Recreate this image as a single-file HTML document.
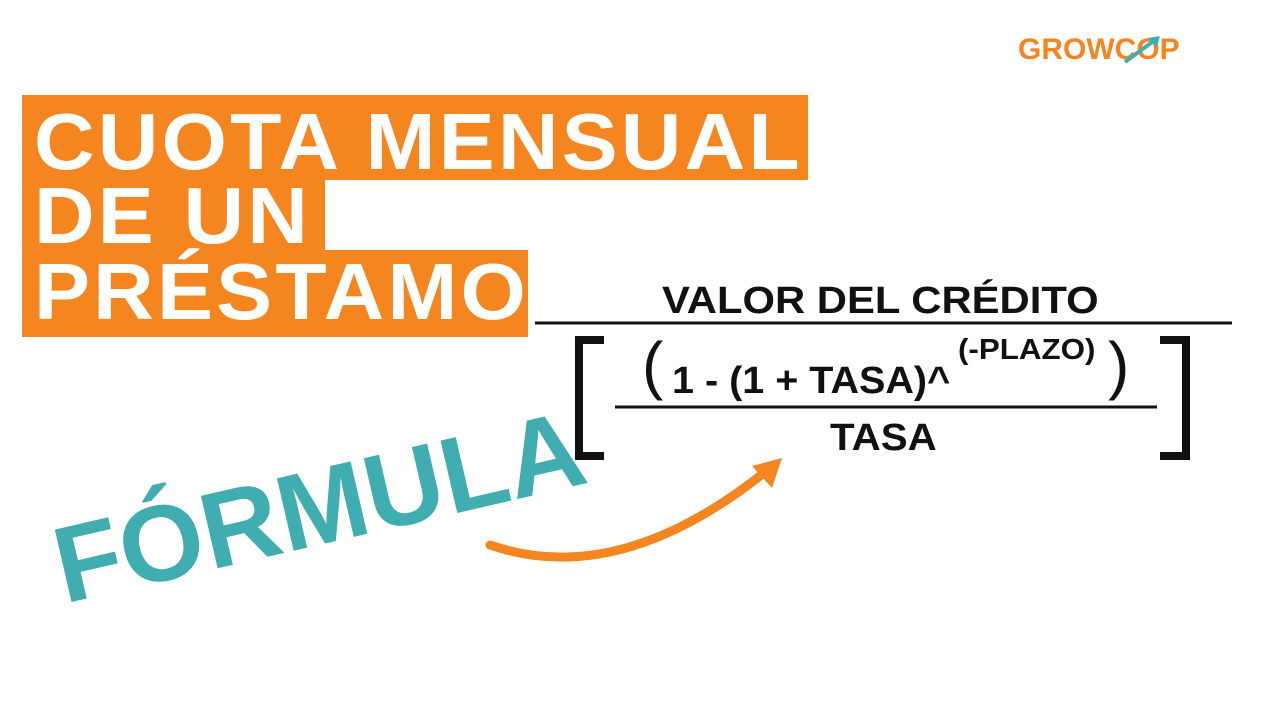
<!DOCTYPE html>
<html><head><meta charset="utf-8"><style>
body{margin:0;width:1280px;height:720px;background:#fff;position:relative;overflow:hidden;font-family:"Liberation Sans",sans-serif}
.a{position:absolute;white-space:nowrap}
.box{position:absolute;background:#f5851f}
.t{position:absolute;color:#fff;font-weight:bold;font-size:80px;line-height:1;letter-spacing:3px}
.f{position:absolute;color:#111;font-weight:bold;white-space:nowrap;line-height:1}
</style></head><body>
<div class="box" style="left:22px;top:95px;width:786px;height:85px"></div>
<div class="box" style="left:22px;top:178px;width:303px;height:74px"></div>
<div class="box" style="left:22px;top:250px;width:506px;height:87px"></div>
<div class="t" style="left:34px;top:102px;transform:scaleX(1.05);transform-origin:left">CUOTA MENSUAL</div>
<div class="t" style="left:34px;top:176px;transform:scaleX(1.05);transform-origin:left">DE UN</div>
<div class="t" style="left:34px;top:252px;transform:scaleX(1.05);transform-origin:left">PRÉSTAMO</div>

<div class="a" style="left:1018px;top:33px;font-size:30px;font-weight:bold;color:#f5851f">GROWCOP</div>
<svg class="a" style="left:0;top:0" width="1280" height="720">
<line x1="1125" y1="62" x2="1155" y2="40" stroke="#40aeb0" stroke-width="4"/>
<polygon points="1160,36 1148,38 1157,47" fill="#40aeb0"/>
<path d="M490 545 Q620 590 770 468" fill="none" stroke="#f5851f" stroke-width="9" stroke-linecap="round"/>
<polygon points="782,458 752,466 772,488" fill="#f5851f"/>
<line x1="535" y1="323" x2="1232" y2="323" stroke="#111" stroke-width="3"/>
<line x1="615" y1="407" x2="1157" y2="407" stroke="#111" stroke-width="3"/>
<path d="M604 340 H579 V456 H604" fill="none" stroke="#111" stroke-width="8"/>
<path d="M1160 340 H1186 V456 H1160" fill="none" stroke="#111" stroke-width="8"/>
</svg>
<div class="f" style="left:662px;top:282px;font-size:38px;transform:scaleX(1.1);transform-origin:left">VALOR DEL CRÉDITO</div>
<div class="f" style="left:642px;top:333px;font-size:64px;font-weight:normal">(</div>
<div class="f" style="left:1108px;top:333px;font-size:64px;font-weight:normal">)</div>
<div class="f" style="left:672px;top:362px;font-size:38px;transform:scaleX(1.04);transform-origin:left">1 - (1 + TASA)^</div>
<div class="f" style="left:958px;top:336px;font-size:29px;transform:scaleX(1.08);transform-origin:left">(-PLAZO)</div>
<div class="f" style="left:830px;top:419px;font-size:38px;transform:scaleX(1.06);transform-origin:left">TASA</div>

<div class="a" style="left:44px;top:515px;font-size:108px;font-weight:bold;color:#40aeb0;letter-spacing:0px;line-height:1;transform:rotate(-13deg);transform-origin:left top">FÓRMULA</div>
</body></html>
